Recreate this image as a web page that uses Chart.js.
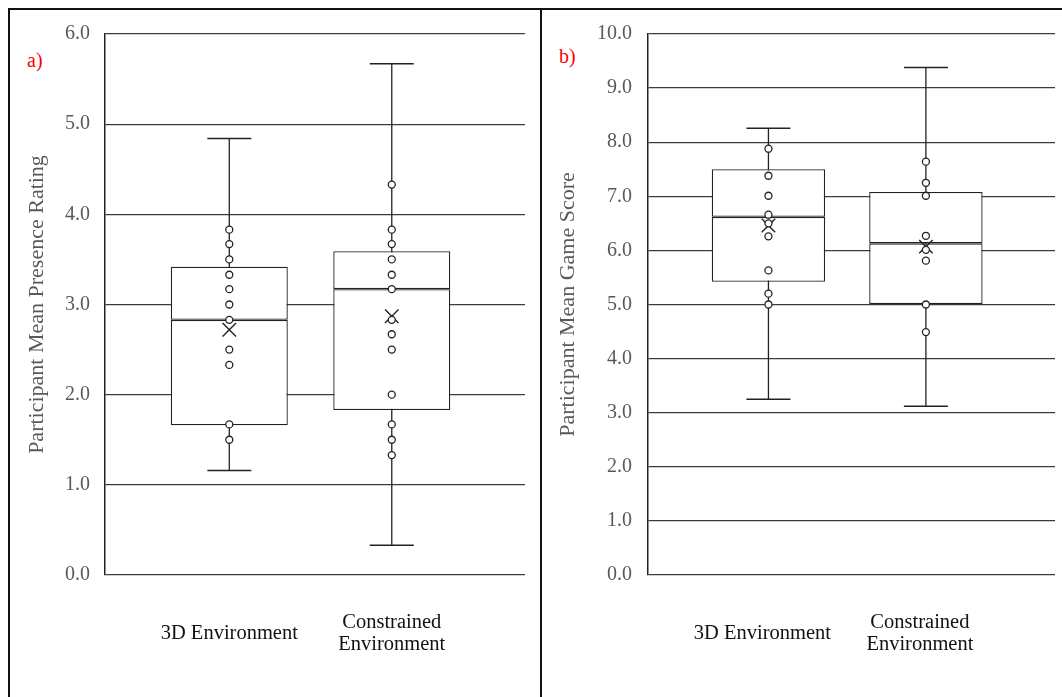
<!DOCTYPE html>
<html>
<head>
<meta charset="utf-8">
<script src="https://cdn.jsdelivr.net/npm/chart.js@4.4.1/dist/chart.umd.min.js"></script>
<style>
  body { margin: 0; background: #fff; }
  #page { position: relative; width: 1062px; height: 697px; overflow: hidden; }
  .rule { position: absolute; background: #111; }
  .panel-label { position: absolute; font-family: "Liberation Serif", serif; font-size: 20px; line-height: 20px; color: #ff0000; }
  canvas { position: absolute; }
</style>
</head>
<body>
<div id="page">
  <div class="rule" style="left:8px; top:8px; width:1054px; height:2px;"></div>
  <div class="rule" style="left:8px; top:8px; width:2px; height:689px;"></div>
  <div class="rule" style="left:540px; top:8px; width:2px; height:689px;"></div>
  <div class="panel-label" style="left:27px; top:50px;">a)</div>
  <div class="panel-label" style="left:559px; top:46px;">b)</div>
  <canvas id="presence-chart" width="530" height="687" style="left:10px; top:10px;"></canvas>
  <canvas id="score-chart" width="519" height="687" style="left:543px; top:10px;"></canvas>
</div>
<script>
// Categorías (eje x) y su posición
const categories = ['3D Environment', ['Constrained', 'Environment']];
const categoryPositions = [1, 2];

// a) Presencia media
const presenceMin = [1.16, 0.33];
const presenceQ1 = [1.66, 1.83];
const presenceMedian = [2.83, 3.17];
const presenceQ3 = [3.42, 3.59];
const presenceMax = [4.84, 5.67];
const presenceMean = [2.72, 2.87];
const presencePoints3D = [3.83, 3.67, 3.5, 3.33, 3.17, 3.0, 2.83, 2.5, 2.33, 1.67, 1.5];
const presencePointsConstrained = [4.33, 3.83, 3.67, 3.5, 3.33, 3.17, 2.83, 2.67, 2.5, 2.0, 1.67, 1.5, 1.33];

// b) Puntuación media del juego
const scoreMin = [3.25, 3.12];
const scoreQ1 = [5.42, 5.01];
const scoreMedian = [6.62, 6.13];
const scoreQ3 = [7.5, 7.08];
const scoreMax = [8.26, 9.38];
const scoreMean = [6.46, 6.07];
const scorePoints3D = [7.88, 7.38, 7.01, 6.66, 6.5, 6.26, 5.63, 5.2, 5.0];
const scorePointsConstrained = [7.64, 7.25, 7.01, 6.27, 6.01, 5.81, 5.0, 4.49];

const INK = '#222';
const SERIF = '"Liberation Serif", "Times New Roman", serif';

/**
 * Construye los datasets de un diagrama de caja
 */
function boxDatasets(s) {
    const datasets = [];

    // Puntos internos
    datasets.push({
        type: 'scatter',
        data: s.points.flatMap((arr, i) => arr.map(v => ({ x: categoryPositions[i], y: v }))),
        pointStyle: 'circle',
        pointRadius: 3.5,
        pointBackgroundColor: '#fff',
        pointBorderColor: INK,
        pointBorderWidth: 1.3,
        order: 0
    });

    // Media (X)
    datasets.push({
        type: 'scatter',
        data: s.mean.map((v, i) => ({ x: categoryPositions[i], y: v })),
        pointStyle: 'crossRot',
        pointRadius: 9.5,
        pointBorderColor: INK,
        pointBorderWidth: 1.4,
        order: 0
    });

    // Caja: mitad inferior y superior
    const boxStyle = {
        type: 'bar',
        grouped: false,
        barPercentage: 0.9,
        backgroundColor: '#fff',
        borderColor: INK,
        borderWidth: 1.3,
        borderSkipped: false,
        order: 1
    };
    datasets.push(Object.assign({
        data: s.q1.map((v, i) => ({ x: categoryPositions[i], y: [v, s.median[i]] }))
    }, boxStyle));
    datasets.push(Object.assign({
        data: s.median.map((v, i) => ({ x: categoryPositions[i], y: [v, s.q3[i]] }))
    }, boxStyle));

    // Bigotes
    categoryPositions.forEach((x, i) => {
        datasets.push({
            type: 'line',
            data: [{ x: x, y: s.min[i] }, { x: x, y: s.max[i] }],
            borderColor: INK,
            borderWidth: 1.3,
            pointRadius: 0,
            order: 2
        });
    });

    // Extremos de los bigotes
    datasets.push({
        type: 'scatter',
        data: s.min.concat(s.max).map((v, i) => ({ x: categoryPositions[i % categoryPositions.length], y: v })),
        pointStyle: 'line',
        pointRadius: 22,
        pointBorderColor: INK,
        pointBorderWidth: 1.5,
        order: 2
    });

    return datasets;
}

/**
 * Crea un gráfico de caja
 */
function createBoxChart(canvasId, s, opts) {
    const ctx = document.getElementById(canvasId).getContext('2d');

    new Chart(ctx, {
        type: 'bar',
        data: { datasets: boxDatasets(s) },
        options: {
            responsive: false,
            animation: false,
            events: [],
            devicePixelRatio: 1,
            layout: { autoPadding: false, padding: { top: 24, right: opts.padRight, left: 0, bottom: 0 } },
            plugins: { legend: { display: false }, tooltip: { enabled: false } },
            scales: {
                x: {
                    type: 'linear',
                    offset: false,
                    min: 0.235,
                    max: 2.82,
                    afterBuildTicks: scale => {
                        scale.ticks = categoryPositions.map(v => ({ value: v }));
                    },
                    afterFit: scale => { scale.height = 122; },
                    grid: { display: false },
                    border: { display: false },
                    ticks: {
                        autoSkip: false,
                        maxRotation: 0,
                        crossAlign: 'center',
                        padding: 40,
                        labelOffset: opts.labelOffset,
                        color: '#111',
                        font: { family: SERIF, size: 20.5, lineHeight: 1.06 },
                        callback: (value, index) => categories[index]
                    }
                },
                y: {
                    min: 0,
                    max: opts.max,
                    afterFit: scale => {
                        scale.width = opts.axisWidth;
                        scale.paddingTop = 0;
                        scale.paddingBottom = 0;
                    },
                    grid: { color: '#3c3c3c', lineWidth: 1.3, drawTicks: false },
                    border: { display: true, color: INK, width: 1.5 },
                    ticks: {
                        stepSize: 1,
                        padding: opts.tickPad,
                        color: '#595959',
                        font: { family: SERIF, size: 20 },
                        callback: v => v.toFixed(1)
                    },
                    title: {
                        display: true,
                        text: opts.title,
                        color: '#595959',
                        font: { family: SERIF, size: 22 },
                        padding: { top: opts.titlePad, bottom: 0 }
                    }
                }
            }
        }
    });
}

createBoxChart('presence-chart', {
    min: presenceMin, q1: presenceQ1, median: presenceMedian, q3: presenceQ3,
    max: presenceMax, mean: presenceMean,
    points: [presencePoints3D, presencePointsConstrained]
}, { max: 6, title: 'Participant Mean Presence Rating', axisWidth: 95, padRight: 15, tickPad: 15, titlePad: 14, labelOffset: 0 });

createBoxChart('score-chart', {
    min: scoreMin, q1: scoreQ1, median: scoreMedian, q3: scoreQ3,
    max: scoreMax, mean: scoreMean,
    points: [scorePoints3D, scorePointsConstrained]
}, { max: 10, title: 'Participant Mean Game Score', axisWidth: 105, padRight: 7, tickPad: 16, titlePad: 12, labelOffset: -6 });
</script>
</body>
</html>
